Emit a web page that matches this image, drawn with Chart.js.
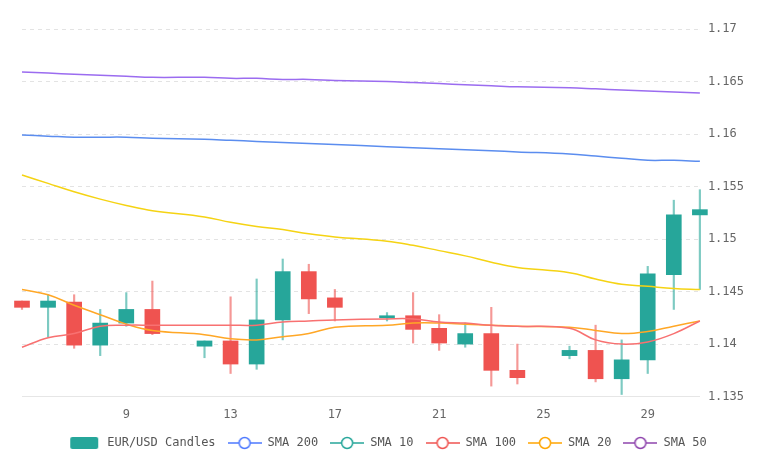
<!DOCTYPE html>
<html><head><meta charset="utf-8">
<script src="https://cdn.jsdelivr.net/npm/chart.js@4/dist/chart.umd.min.js"></script>
<style>html,body{margin:0;padding:0;background:#fff}#w{width:770px;height:463px}</style>
</head><body><div id="w"><canvas id="c"></canvas></div>
<script>
const days  = [5,6,7,8,9,10,12,13,14,15,16,17,19,20,21,22,23,24,26,27,28,29,30,31];
const opens = [1.1441,1.1435,1.1440,1.1399,1.1420,1.1433,1.1398,1.1403,1.1381,1.1423,1.1469,1.1444,1.1425,1.1427,1.1415,1.1400,1.1410,1.1375,1.1389,1.1394,1.1367,1.1385,1.1466,1.1523];
const highs = [1.1441,1.1447,1.1447,1.1433,1.1449,1.1460,1.1403,1.1445,1.1462,1.1481,1.1476,1.1452,1.1430,1.1449,1.1428,1.1420,1.1435,1.1400,1.1398,1.1418,1.1404,1.1474,1.1537,1.1547];
const lows  = [1.1433,1.1407,1.1396,1.1389,1.1417,1.1409,1.1387,1.1372,1.1376,1.1404,1.1429,1.1422,1.1422,1.1401,1.1394,1.1397,1.1360,1.1362,1.1386,1.1364,1.1352,1.1372,1.1433,1.1452];
const closes= [1.1435,1.1441,1.1399,1.1420,1.1433,1.1410,1.1403,1.1381,1.1423,1.1469,1.1443,1.1435,1.1427,1.1414,1.1401,1.1410,1.1375,1.1368,1.1394,1.1367,1.1385,1.1467,1.1523,1.1528];
const sma50  = [1.1659,1.1658,1.1657,1.1656,1.1655,1.1654,1.1654,1.1653,1.1653,1.1652,1.1652,1.1651,1.1650,1.1649,1.1648,1.1647,1.1646,1.1645,1.1644,1.1643,1.1642,1.1641,1.1640,1.1639];
const sma200 = [1.1599,1.1598,1.1597,1.1597,1.1597,1.1596,1.1595,1.1594,1.1593,1.1592,1.1591,1.1590,1.1588,1.1587,1.1586,1.1585,1.1584,1.1583,1.1581,1.1579,1.1577,1.1575,1.1575,1.1574];
const sma10  = [1.1561,1.1553,1.1545,1.1538,1.1532,1.1527,1.1521,1.1516,1.1512,1.1509,1.1505,1.1502,1.1498,1.1494,1.1489,1.1484,1.1478,1.1473,1.1468,1.1462,1.1457,1.1455,1.1453,1.1452];
const sma20  = [1.1452,1.1447,1.1437,1.1428,1.1419,1.1413,1.1409,1.1405,1.1404,1.1407,1.1410,1.1416,1.1418,1.1420,1.1420,1.1419,1.1418,1.1417,1.1416,1.1413,1.1410,1.1412,1.1417,1.1422];
const sma100 = [1.1397,1.1406,1.1410,1.1417,1.1418,1.1418,1.1418,1.1418,1.1418,1.1421,1.1422,1.1423,1.1424,1.1424,1.1421,1.1420,1.1418,1.1417,1.1415,1.1404,1.1400,1.1402,1.1410,1.1422];
const yTicks = [1.135,1.14,1.145,1.15,1.155,1.16,1.165,1.17];
const xTicks = [9,13,17,21,25,29];

const UP='#26a69a', DN='#ef5350';
const cols = days.map((d,i)=>closes[i]>=opens[i]?UP:DN);
const wickCols = days.map((d,i)=>closes[i]>=opens[i]?'rgba(38,166,154,0.6)':'rgba(239,83,80,0.6)');
function icon(color, candle){
  const c=document.createElement('canvas');
  if(candle){c.width=30;c.height=14;const x=c.getContext('2d');x.fillStyle=color;x.beginPath();x.roundRect(1,1,28,12,2);x.fill();}
  else{c.width=34;c.height=14;const x=c.getContext('2d');x.strokeStyle=color;x.lineWidth=1.5;x.beginPath();x.moveTo(0,7);x.lineTo(34,7);x.stroke();
    x.fillStyle='#fff';x.beginPath();x.arc(17,7,5.5,0,Math.PI*2);x.fill();x.stroke();}
  return c;
}
const legendCols={'SMA 200':'#4d79ff','SMA 10':'#26a69a','SMA 100':'#ef5350','SMA 20':'#ffa500','SMA 50':'#8e44ad'};
function line(label,data,color){return {type:'line',label,data:days.map((d,i)=>({x:d,y:data[i]})),borderColor:color,borderWidth:1.5,pointRadius:0,tension:0.4,order:0,fill:false,clip:false};}
new Chart(document.getElementById('c'),{
  data:{datasets:[
    {type:'bar',label:'EUR/USD Candles',data:days.map((d,i)=>({x:d,y:[opens[i],closes[i]]})),backgroundColor:cols,barThickness:15,grouped:false,order:2,clip:false},
    {type:'bar',label:'wick',data:days.map((d,i)=>({x:d,y:[lows[i],highs[i]]})),backgroundColor:wickCols,barThickness:1.5,grouped:false,order:3,clip:false},
    line('SMA 200',sma200,'#5b8def'),
    line('SMA 10',sma10,'#f5d313'),
    line('SMA 100',sma100,'#f87171'),
    line('SMA 20',sma20,'#ffa726'),
    line('SMA 50',sma50,'#9b6cf0')
  ]},
  options:{responsive:true,maintainAspectRatio:false,animation:false,
    layout:{padding:{left:22,right:18,top:29,bottom:4}},
    plugins:{tooltip:{enabled:false},
      legend:{position:'bottom',labels:{usePointStyle:true,pointStyleWidth:34,boxHeight:14,padding:12,color:'#555',font:{family:'DejaVu Sans Mono',size:12},
        filter:it=>it.text!=='wick',
        generateLabels:ch=>ch.data.datasets.map((ds,i)=>({text:ds.label,datasetIndex:i,fontColor:'#555',lineWidth:0,strokeStyle:'transparent',fillStyle:'transparent',
          pointStyle:icon(ds.label==='EUR/USD Candles'?UP:legendCols[ds.label],ds.label==='EUR/USD Candles')}))}}},
    scales:{
      x:{type:'linear',min:5,max:31,offset:false,
        afterBuildTicks:a=>{a.ticks=xTicks.map(v=>({value:v}));},
        grid:{display:false},border:{color:'#e6e6e6'},
        ticks:{color:'#666',font:{family:'DejaVu Sans Mono',size:12}}},
      y:{position:'right',min:1.135,max:1.17,
        afterBuildTicks:a=>{a.ticks=yTicks.map(v=>({value:v}));},
        grid:{color:'#e3e3e3',tickLength:0},border:{display:false,dash:[4,4]},
        ticks:{color:'#666',padding:8,font:{family:'DejaVu Sans Mono',size:12},callback:v=>String(+v.toFixed(3))}}
    }
  }
});
</script></body></html>
